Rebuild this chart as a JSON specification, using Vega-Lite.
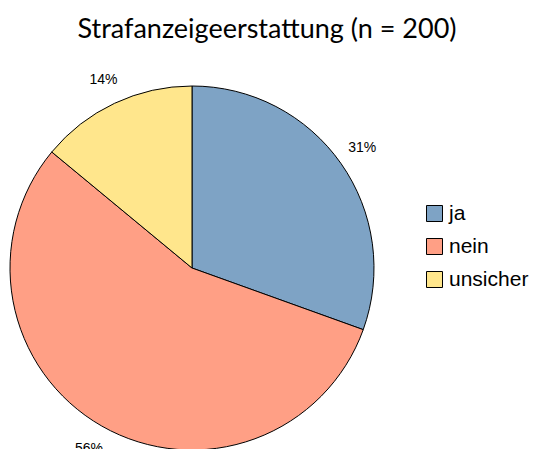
{
  "$schema": "https://vega.github.io/schema/vega-lite/v6.json",
  "width": 364,
  "height": 364,
  "autosize": "none",
  "padding": {"left": 10, "top": 86, "right": 161, "bottom": -1},
  "background": "white",
  "title": {
    "text": "Strafanzeigeerstattung (n = 200)",
    "font": "Lato",
    "fontSize": 27,
    "fontWeight": "normal",
    "color": "black",
    "anchor": "middle",
    "dx": 75,
    "offset": 29
  },
  "data": {
    "values": [
      {"antwort": "ja", "anzahl": 61, "label": "31%"},
      {"antwort": "nein", "anzahl": 111, "label": "56%"},
      {"antwort": "unsicher", "anzahl": 28, "label": "14%"}
    ]
  },
  "encoding": {
    "theta": {"field": "anzahl", "type": "quantitative", "stack": true},
    "order": {"field": "antwort", "type": "ordinal", "sort": "ascending"}
  },
  "layer": [
    {
      "mark": {"type": "arc", "stroke": "black", "strokeWidth": 1, "opacity": 1},
      "encoding": {
        "color": {
          "field": "antwort",
          "type": "nominal",
          "scale": {"domain": ["ja", "nein", "unsicher"], "range": ["#7EA3C5", "#FF9F85", "#FFE68C"]},
          "legend": {
            "title": null,
            "orient": "none",
            "legendX": 414,
            "legendY": 117,
            "symbolType": "square",
            "symbolSize": 256,
            "symbolStrokeColor": "black",
            "symbolStrokeWidth": 1,
            "symbolOpacity": 1,
            "labelFont": "Liberation Sans",
            "labelFontSize": 21,
            "labelColor": "black",
            "labelOffset": 4,
            "rowPadding": 11
          }
        }
      }
    },
    {
      "mark": {"type": "text", "radius": 208, "font": "Liberation Sans", "fontSize": 14, "color": "black"},
      "encoding": {
        "text": {"field": "label", "type": "nominal"},
        "detail": {"field": "antwort", "type": "nominal"}
      }
    }
  ],
  "config": {"view": {"stroke": null}}
}
